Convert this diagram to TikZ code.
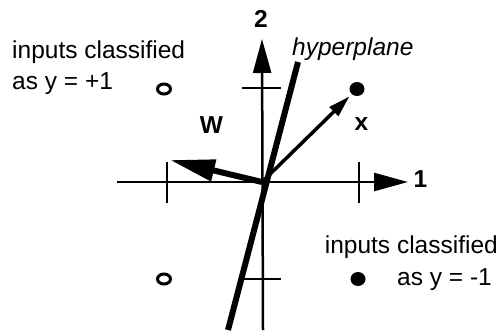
\documentclass[tikz,border=0pt]{standalone}
\usepackage{fontspec}
\setmainfont{Liberation Sans}
\usetikzlibrary{arrows.meta,shapes.geometric}
\begin{document}
\begin{tikzpicture}[x=1pt,y=-1pt,
  lbl/.style={inner sep=0pt, font=\fontsize{24.5}{29}\selectfont},
  blbl/.style={lbl, font=\fontsize{24.5}{29}\selectfont\bfseries},
  axis/.style={line width=2.5pt, -{Triangle[length=34pt,width=18pt]}},
  tick/.style={line width=2.5pt},
  opendot/.style={ellipse, draw, line width=3pt, minimum width=13pt, minimum height=10pt, inner sep=0pt},
  fulldot/.style={ellipse, fill, minimum width=15pt, minimum height=14pt, inner sep=0pt}]
\useasboundingbox (0,0) rectangle (500,330);
\coordinate (O) at (262,182);
% axes
\coordinate (xs) at (117,182);
\coordinate (xe) at (408,182);
\coordinate (ys) at (263,330);
\coordinate (ye) at (262,39);
\draw[axis] (xs) -- (xe);
\draw[axis] (ys) -- (ye);
% ticks
\coordinate (t1a) at (167,162); \coordinate (t1b) at (167,203);
\coordinate (t2a) at (359,162); \coordinate (t2b) at (359,203);
\coordinate (t3a) at (242,88);  \coordinate (t3b) at (281,88);
\coordinate (t4a) at (242,279); \coordinate (t4b) at (281,279);
\draw[tick] (t1a) -- (t1b);
\draw[tick] (t2a) -- (t2b);
\draw[tick] (t3a) -- (t3b);
\draw[tick] (t4a) -- (t4b);
% hyperplane
\coordinate (h1) at (228,330);
\coordinate (h2) at (298,62);
\draw[line width=6pt] (h1) -- (h2);
% points
\node[opendot] (p1) at (164,89) {};
\node[opendot] (p2) at (164,279) {};
\node[fulldot] (p3) at (357,89) {};
\node[fulldot] (p4) at (358,279) {};
% vectors
\coordinate (wt) at (170,160);
\draw[line width=6pt, -{Triangle[length=45pt,width=21pt]}] (O) -- (wt);
\draw[line width=3.5pt, -{Triangle[length=22pt,width=12pt]}, shorten >=3pt] (O) -- (p3);
% labels
\node[blbl, anchor=base] (l2) at (261,27) {2};
\node[blbl, anchor=base] (l1) at (420.5,187) {1};
\node[blbl, anchor=base] (lw) at (211.5,133) {W};
\node[blbl, anchor=base] (lx) at (361.5,130) {x};
\node[lbl, anchor=base west, font=\fontsize{24.5}{29}\selectfont\itshape] (lh) at (292,55) {hyperplane};
\node[lbl, anchor=base west] (a1) at (12,58.5) {inputs classified};
\node[lbl, anchor=base west] (a2) at (12,89) {as y = +1};
\node[lbl, anchor=base east] (b1) at (498,253) {inputs classified};
\node[lbl, anchor=base east] (b2) at (492,285) {as y = -1};
\end{tikzpicture}
\end{document}
